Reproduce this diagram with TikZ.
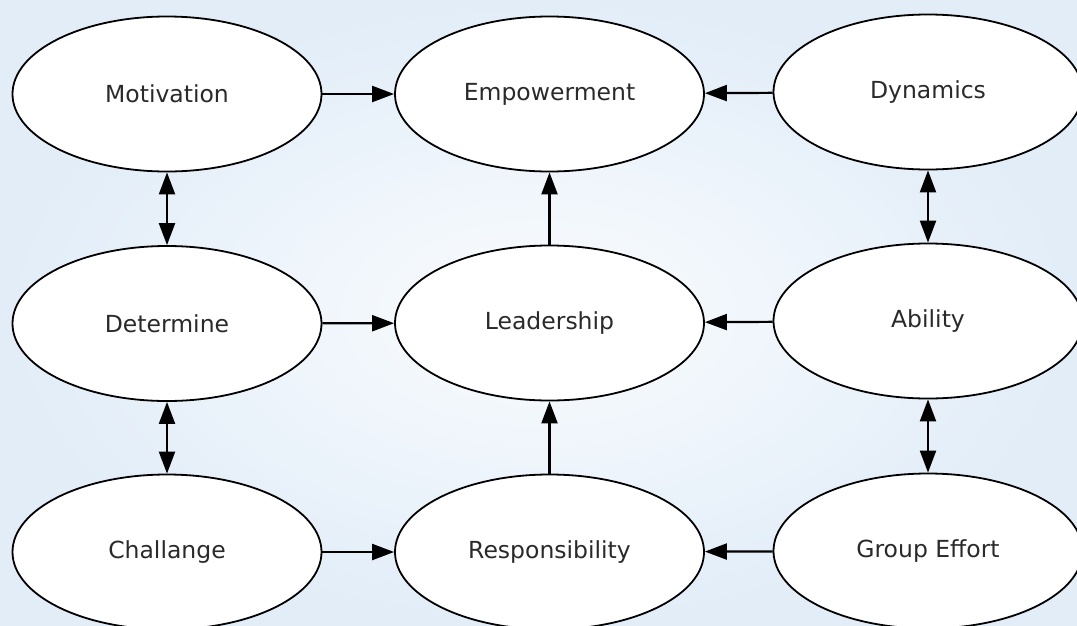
\documentclass[tikz,border=0pt]{standalone}
\usepackage{fontspec}
\setmainfont{DejaVu Sans}
\usetikzlibrary{shapes.geometric,arrows.meta}
\definecolor{bgedge}{HTML}{E2EDF8}
\definecolor{bgmid}{HTML}{FAFCFE}
\definecolor{txtgray}{HTML}{2A2A2A}
\begin{document}
\begin{tikzpicture}[x=1pt, y=-1pt,
  idea/.style={ellipse, draw=black, line width=1.8pt, fill=white,
    minimum width=309pt, minimum height=155pt, inner sep=0pt,
    font=\fontsize{23.5}{27}\selectfont, text=txtgray},
  link/.style={line width=2.2pt, -{Triangle[length=22pt,width=16pt]}},
  twoway/.style={line width=2.2pt, {Triangle[length=22pt,width=16pt]}-{Triangle[length=22pt,width=16pt]}}]
\shade[inner color=bgmid, outer color=bgedge] (0,0) rectangle (1077,625);
\useasboundingbox (0,0) rectangle (1077,625);
\node[idea] (motivation) at (167, 94){Motivation};
\node[idea] (empowerment) at (549.5, 94){Empowerment};
\node[idea] (dynamics) at (928, 92){Dynamics};
\node[idea] (determine) at (167, 323.5){Determine};
\node[idea] (leadership) at (549.5, 323){Leadership};
\node[idea] (ability) at (928, 321){Ability};
\node[idea] (challange) at (167, 552){Challange};
\node[idea] (responsibility) at (549.5, 552){Responsibility};
\node[idea] (groupeffort) at (928, 551){Group Effort};
\draw[link] (motivation) -- (empowerment);
\draw[link] (dynamics) -- (empowerment);
\draw[link] (leadership) -- (empowerment);
\draw[link] (determine) -- (leadership);
\draw[link] (ability) -- (leadership);
\draw[link] (responsibility) -- (leadership);
\draw[link] (challange) -- (responsibility);
\draw[link] (groupeffort) -- (responsibility);
\draw[twoway] (motivation) -- (determine);
\draw[twoway] (determine) -- (challange);
\draw[twoway] (dynamics) -- (ability);
\draw[twoway] (ability) -- (groupeffort);
\end{tikzpicture}
\end{document}
